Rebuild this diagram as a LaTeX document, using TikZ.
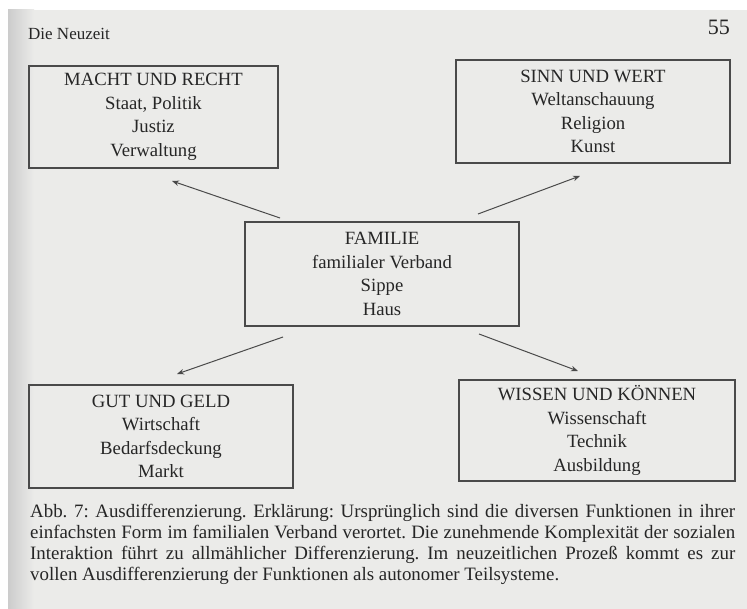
\documentclass[tikz,border=0pt]{standalone}
\usepackage{fontspec}
\setmainfont{Liberation Serif}
\usetikzlibrary{arrows.meta}
\definecolor{paper}{HTML}{EBEBE9}
\definecolor{ink}{HTML}{262626}
\definecolor{rulegray}{HTML}{4A4A4A}
\tikzset{
  fbox/.style={draw=rulegray, line width=1.2pt, inner sep=0pt, align=center,
    text=ink, font=\fontsize{18.7}{23.5}\selectfont},
  arr/.style={draw=rulegray, line width=1pt, -{Stealth[length=7pt,width=5.5pt]}},
  headtext/.style={inner sep=0pt, text=ink},
}
\frenchspacing
\begin{document}
\begin{tikzpicture}[x=1pt,y=-1pt]
  % page
  \useasboundingbox (0,0) rectangle (747,609);
  \fill[white] (0,0) rectangle (747,609);
  \fill[paper] (8,10) rectangle (747,609);
  \shade[left color=black!20, right color=paper] (8,10) rectangle (34,609);

  % running head
  \node[headtext, anchor=base west, font=\fontsize{17}{20}\selectfont] (runhead) at (28,40) {Die Neuzeit};
  \node[headtext, anchor=base east, font=\fontsize{22}{24}\selectfont] (pageno) at (730,35) {55};

  % boxes
  \node[fbox, minimum width=249pt, minimum height=102pt] (macht) at (153.5,117)
    {MACHT UND RECHT\\Staat, Politik\\Justiz\\Verwaltung};
  \node[fbox, minimum width=274pt, minimum height=103pt] (sinn) at (593,111.5)
    {SINN UND WERT\\Weltanschauung\\Religion\\Kunst};
  \node[fbox, minimum width=274pt, minimum height=104pt] (familie) at (382,274)
    {FAMILIE\\familialer Verband\\Sippe\\Haus};
  \node[fbox, minimum width=264pt, minimum height=103pt] (gut) at (161,436.5)
    {GUT UND GELD\\Wirtschaft\\Bedarfsdeckung\\Markt};
  \node[fbox, minimum width=276pt, minimum height=101pt] (wissen) at (597,430.5)
    {WISSEN UND KÖNNEN\\Wissenschaft\\Technik\\Ausbildung};

  % arrow ends, kept clear of the boxes
  \coordinate (famNW) at (280,218);
  \coordinate (famNE) at (478,214);
  \coordinate (famSW) at (283,337);
  \coordinate (famSE) at (479,334);
  \coordinate (machtIn) at (172,181);
  \coordinate (sinnIn) at (580,176);
  \coordinate (gutIn) at (177,374);
  \coordinate (wissenIn) at (578,371);

  \draw[arr] (famNW) -- (machtIn);
  \draw[arr] (famNE) -- (sinnIn);
  \draw[arr] (famSW) -- (gutIn);
  \draw[arr] (famSE) -- (wissenIn);

  % caption
  \node[headtext, anchor=north west, text width=705pt, align=justify,
        font=\fontsize{18.9}{21}\selectfont] (caption) at (30,504)
    {Abb. 7: Ausdifferenzierung. Erklärung: Ursprünglich sind die diversen Funktionen in ihrer\linebreak
     einfachsten Form im familialen Verband verortet. Die zunehmende Komplexität der sozialen\linebreak
     Interaktion führt zu allmählicher Differenzierung. Im neuzeitlichen Prozeß kommt es zur\linebreak
     vollen Ausdifferenzierung der Funktionen als autonomer Teilsysteme.};
\end{tikzpicture}
\end{document}
